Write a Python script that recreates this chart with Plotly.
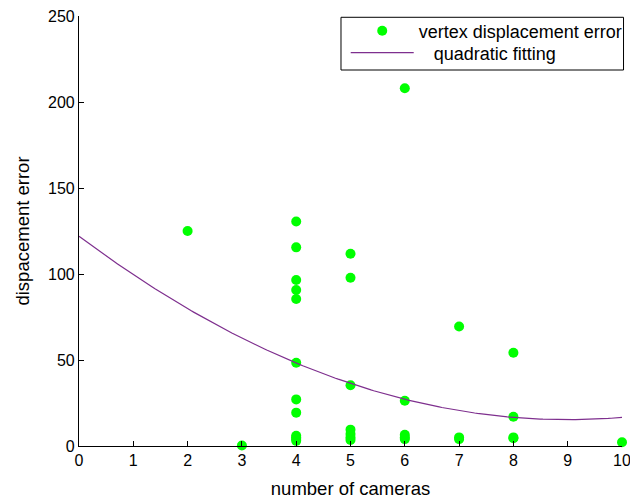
import numpy as np
import plotly.graph_objects as go

# Scatter data: number of cameras vs displacement error
cameras = [2, 3,
           4, 4, 4, 4, 4, 4, 4, 4, 4, 4, 4, 4,
           5, 5, 5, 5, 5, 5, 5,
           6, 6, 6, 6, 6,
           7, 7, 7,
           8, 8, 8, 8,
           10]
errors = [125, 0.3,
          130.5, 115.5, 96.5, 90.7, 85.5, 48.4, 27.1, 19.4, 6, 5, 4, 3,
          111.8, 97.8, 35.3, 9.5, 7, 5, 3.5,
          208, 26.3, 6.5, 5, 4,
          69.5, 5, 4,
          54.2, 17, 5, 4.5,
          2.2]

# Quadratic fitting coefficients (c0 + c1*x + c2*x^2)
fit_coeffs = [122.0, -23.7, 1.316]
fit_range = [0, 10]

x_ticks = [0, 1, 2, 3, 4, 5, 6, 7, 8, 9, 10]
y_ticks = [0, 50, 100, 150, 200, 250]

xf = np.linspace(fit_range[0], fit_range[1], 200)
yf = fit_coeffs[0] + fit_coeffs[1] * xf + fit_coeffs[2] * xf ** 2

FONT = "Liberation Sans, Arial, sans-serif"

fig = go.Figure()
fig.add_trace(go.Scatter(
    x=cameras, y=errors, mode="markers",
    name="vertex displacement error",
    marker=dict(color="#00ff00", size=10, line=dict(width=0)),
    cliponaxis=False, legend="legend",
))
fig.add_trace(go.Scatter(
    x=xf, y=yf, mode="lines",
    name="\u00a0\u00a0\u00a0quadratic fitting",
    line=dict(color="#7e2f8e", width=1.2),
    legend="legend2",
))

axis_common = dict(
    showline=True, linecolor="black", linewidth=1.2,
    ticks="inside", ticklen=5, tickcolor="black", tickwidth=1,
    showgrid=False, zeroline=False, mirror=False,
    ticklabeloverflow="allow", automargin=False,
    tickfont=dict(family=FONT, size=16, color="black"),
)

legend_common = dict(
    xanchor="left", yanchor="top", x=0.4912,
    borderwidth=0, bgcolor="rgba(0,0,0,0)",
    font=dict(family=FONT, size=18, color="black"), itemwidth=63,
)

# page body has an 8px margin, so the figure is sized/shifted to compensate
fig.update_layout(
    width=630, height=493,
    margin=dict(l=70.5, r=15.5, t=8, b=55, autoexpand=False),
    paper_bgcolor="white", plot_bgcolor="white",
    font=dict(family=FONT, size=16, color="black"),
    showlegend=True,
    legend=dict(y=1.0081, **legend_common),
    legend2=dict(y=0.9570, **legend_common),
    shapes=[dict(type="rect", xref="paper", yref="paper",
                 x0=0.4825, x1=1.0028, y0=0.8744, y1=0.997,
                 line=dict(color="black", width=1), fillcolor="white",
                 layer="below")],
    xaxis=dict(range=[0, 10], tickvals=x_ticks,
               title=dict(text="number of cameras", standoff=13,
                          font=dict(family=FONT, size=18.5)), **axis_common),
    yaxis=dict(range=[0, 250], tickvals=y_ticks,
               title=dict(text="dispacement error", standoff=13,
                          font=dict(family=FONT, size=18.5)), **axis_common),
)

fig.write_html("out.html")
